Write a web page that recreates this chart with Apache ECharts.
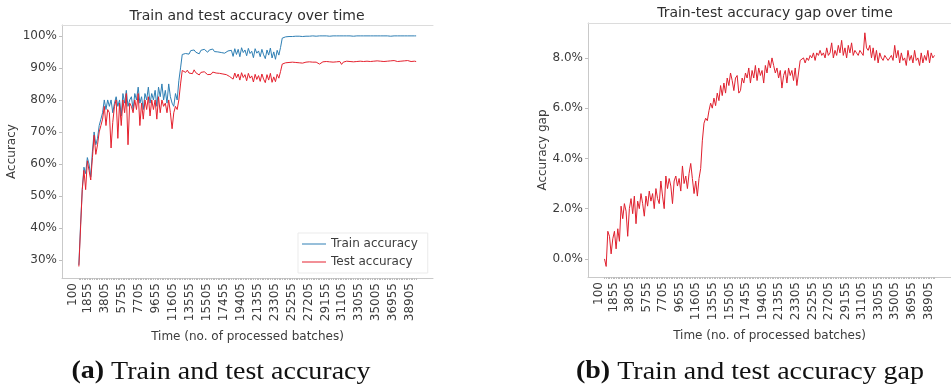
<!DOCTYPE html>
<html>
<head>
<meta charset="utf-8">
<script src="https://cdn.jsdelivr.net/npm/echarts@6/dist/echarts.min.js"></script>
<style>
  html, body { margin: 0; padding: 0; background: #ffffff; }
  #chart { width: 951px; height: 388px; }
</style>
</head>
<body>
<div id="chart"></div>
<script>
// Evaluation is logged every 195 processed batches, starting at batch 100.
const batchStart = 100;
const batchStep = 195;

// Train accuracy (%) at each evaluation point.
const trainAcc = [
  28.5, 41, 52, 59, 57, 62, 60, 56, 64, 70,
  66, 68, 72, 74, 76, 80, 77, 80, 78, 80,
  76, 79, 81, 78, 80, 75, 82, 79, 83, 78,
  80, 81, 77, 82, 80, 84, 79, 81, 77, 82,
  80, 84, 79, 82, 80, 83, 78, 84, 81, 85,
  80, 83, 79, 85, 81, 79, 78, 82, 80, 86,
  90, 94.2, 94.8, 94.5, 95.1, 94.3, 95.4, 94.8, 95.6, 94.9,
  95.2, 94.4, 95.5, 95.0, 95.8, 95.2, 94.9, 95.6, 95.3, 95.9,
  95.1, 95.4, 95.0, 95.3, 94.8, 95.2, 94.6, 94.9, 95.3, 94.7,
  95.5, 93.6, 96.0, 94.2, 95.8, 93.5, 96.3, 94.8, 95.6, 93.8,
  96.1, 94.5, 95.2, 93.2, 96.0, 94.6, 95.3, 93.5, 95.8, 94.1,
  92.9, 95.6, 94.0, 96.2, 93.1, 95.0, 92.7, 95.5, 94.0, 96.4,
  99.3, 99.6, 99.7, 99.6, 99.8, 99.7, 99.8, 99.8, 99.9, 99.8,
  99.9, 99.9, 99.8, 99.9, 99.9, 100, 99.9, 99.9, 100, 99.9,
  99.9, 100, 100, 99.9, 100, 99.9, 100, 100, 99.9, 100,
  100, 99.9, 100, 100, 100, 99.9, 100, 100, 100, 99.9,
  100, 100, 99.9, 100, 100, 100, 100, 99.9, 100, 100,
  100, 100, 100, 99.9, 100, 100, 100, 100, 100, 99.9,
  100, 100, 100, 100, 99.9, 100, 100, 100, 100, 100,
  100, 99.9, 100, 100, 100, 100, 100, 100, 100, 100
];

// Test accuracy (%) at each evaluation point.
const testAcc = [
  28, 40, 52, 58, 52, 61, 58, 55, 62, 69,
  63, 66, 70, 72, 74, 78, 72, 77, 76, 65,
  73, 78, 80, 68, 79, 72, 80, 76, 82, 66,
  79, 78, 76, 80, 77, 82, 72, 79, 74, 80,
  77, 81, 75, 80, 77, 80, 74, 81, 76, 80,
  78, 79, 76, 80, 76, 71, 76, 78, 77, 80,
  85, 89.2, 89.5, 88.6, 89.3, 88.4, 89.0, 88.2, 89.4, 88.5,
  88.9, 87.8, 88.6, 88.1, 88.8, 88.3, 87.9, 88.5, 88.0, 88.7,
  88.2, 88.4, 88.0, 88.3, 87.8, 88.1, 87.5, 87.9, 87.6, 87.3,
  87.8, 86.5, 88.4, 86.9, 88.1, 86.2, 88.5, 87.0, 87.9, 86.0,
  88.3, 86.8, 87.5, 85.6, 88.0, 86.4, 87.6, 85.8, 88.1, 86.5,
  85.4, 87.9, 86.2, 88.3, 85.5, 87.2, 85.7, 88.0, 86.8, 88.9,
  91.2, 91.5, 91.6, 91.4, 91.7, 91.6, 91.8, 91.5, 91.7, 91.9,
  91.6, 91.8, 91.5, 91.7, 91.8, 91.6, 91.9, 91.7, 91.8, 91.6,
  91.8, 91.9, 91.2, 91.7, 91.9, 91.8, 92.0, 91.7, 91.9, 92.0,
  91.8, 92.0, 91.9, 91.7, 92.0, 91.1, 91.8, 92.0, 92.1, 91.9,
  92.0, 92.2, 91.9, 92.1, 92.0, 91.8, 92.1, 92.2, 92.0, 91.9,
  92.1, 92.2, 92.0, 92.3, 92.1, 91.9, 92.2, 92.0, 92.1, 92.3,
  92.0, 92.2, 92.1, 91.9, 92.2, 92.0, 92.3, 92.1, 92.0, 92.2,
  92.1, 91.9, 92.2, 92.0, 92.3, 92.1, 92.0, 92.2, 92.1, 92.0
];

// Train-test accuracy gap (%) at each evaluation point.
const accGap = [
  0.0, -0.3, 1.1, 0.9, 0.2, 0.8, 1.1, 0.4, 1.2, 0.7,
  2.1, 1.6, 2.2, 1.9, 0.9, 2.0, 2.4, 1.8, 2.5, 1.4,
  2.3, 2.0, 2.6, 2.2, 1.7, 2.5, 2.1, 2.7, 2.3, 2.6,
  2.0, 2.8, 2.4, 2.2, 3.1, 2.5, 2.0, 3.3, 2.8, 3.2,
  2.9, 2.2, 3.1, 3.3, 2.9, 3.2, 2.7, 3.7, 3.0, 3.3,
  2.8, 3.4, 3.8, 3.2, 2.6, 3.1, 2.5, 3.2, 3.6, 4.7,
  5.4, 5.6, 5.5, 5.9, 6.2, 6.0, 6.4, 6.1, 6.6, 6.3,
  6.9, 6.5, 7.0, 6.6, 7.2, 6.9, 7.4, 7.1, 6.7, 7.2,
  7.3, 6.6, 6.7, 7.2, 7.0, 7.4, 7.2, 7.6, 7.0, 7.5,
  7.2, 7.7, 7.1, 7.6, 7.3, 7.5, 7.0, 7.7, 7.4, 7.9,
  7.6, 8.0, 7.7, 7.4, 7.6, 7.2, 7.5, 6.8, 7.3, 7.5,
  7.0, 7.6, 7.3, 7.5, 7.1, 7.6, 6.9, 7.4, 7.9, 7.9,
  8.0, 7.8, 8.0, 7.9, 8.1, 8.0, 8.2, 7.9, 8.2, 8.1,
  8.3, 8.1, 8.2, 8.0, 8.4, 8.1, 8.2, 8.6, 8.0, 8.3,
  8.1, 8.5, 8.2, 8.7, 8.1, 8.4, 8.0, 8.5, 8.2, 8.6,
  8.1, 8.3, 8.2, 8.1, 8.3, 8.2, 8.1, 9.0, 8.4, 8.3,
  8.5, 8.0, 8.4, 7.9, 8.3, 7.8, 8.2, 8.0, 7.9, 8.1,
  8.0, 7.9, 8.0, 8.1, 7.9, 8.5, 8.0, 8.3, 7.8, 8.2,
  7.9, 8.0, 7.7, 8.3, 7.9, 8.1, 7.8, 8.3, 7.9, 8.0,
  7.7, 8.2, 7.8, 8.1, 7.9, 8.3, 7.8, 8.2, 8.0, 8.1
];

// Labelled batch counts on the time axis.
const batchTicks = [100, 1855, 3805, 5755, 7705, 9655, 11605, 13555, 15505, 17455,
  19405, 21355, 23305, 25255, 27205, 29155, 31105, 33055, 35005, 36955, 38905];
const accTicks = [30, 40, 50, 60, 70, 80, 90, 100];
const gapTicks = [0, 2, 4, 6, 8];

const batches = trainAcc.map((_, i) => batchStart + i * batchStep);
const pairs = (vals) => vals.map((v, i) => [batches[i], v]);

const FONT = 'DejaVu Sans';
const TEXT = '#3c3c3c';
const SPINE = '#c9c9c9';
const span = batches[batches.length - 1] - batches[0];
const xMin = batches[0] - span * 0.05;
const xMax = batches[batches.length - 1] + span * 0.05;

function timeAxis(gridIndex) {
  return {
    type: 'value', gridIndex, min: xMin, max: xMax,
    name: 'Time (no. of processed batches)',
    nameLocation: 'middle', nameGap: 53,
    nameTextStyle: { fontFamily: FONT, fontSize: 12, color: TEXT },
    axisLine: { show: true, onZero: false, lineStyle: { color: SPINE, width: 1 } },
    axisTick: { show: true, length: 2, customValues: batches, lineStyle: { color: '#bdbdbd', width: 1 } },
    axisLabel: {
      customValues: batchTicks, rotate: 90, margin: 5, verticalAlign: 'bottom',
      fontFamily: FONT, fontSize: 12, color: TEXT, formatter: (v) => String(v)
    },
    splitLine: { show: false }
  };
}
function topSpine(gridIndex) {
  return {
    type: 'value', gridIndex, position: 'top', min: xMin, max: xMax,
    axisLine: { show: true, onZero: false, lineStyle: { color: '#dcdcdc', width: 1 } },
    axisTick: { show: false }, axisLabel: { show: false }, splitLine: { show: false }
  };
}

// Sub-figure caption: bold tag followed by a serif description.
function caption(x, tag, desc) {
  return {
    type: 'text', x, y: 372, scaleX: 1.12,
    style: {
      text: '{b|' + tag + '} ' + desc, align: 'center', verticalAlign: 'middle',
      fontFamily: 'Liberation Serif', fontSize: 25, fill: '#111111',
      rich: { b: { fontFamily: 'Liberation Serif', fontSize: 25, fontWeight: 'bold', fill: '#111111' } }
    }
  };
}

const option = {
  animation: false,
  backgroundColor: '#ffffff',
  textStyle: { fontFamily: FONT },
  grid: [
    { left: 62, top: 25, width: 371, height: 253 },
    { left: 588, top: 23, width: 374, height: 254 }
  ],
  xAxis: [timeAxis(0), timeAxis(1), topSpine(0), topSpine(1)],
  yAxis: [
    {
      type: 'value', gridIndex: 0, min: 24.4, max: 103.4,
      name: 'Accuracy', nameLocation: 'middle', nameGap: 44,
      nameTextStyle: { fontFamily: FONT, fontSize: 12, color: TEXT },
      axisLine: { show: true, onZero: false, lineStyle: { color: SPINE } },
      axisTick: { show: true, length: 3, customValues: accTicks, lineStyle: { color: '#bdbdbd' } },
      axisLabel: { customValues: accTicks, margin: 5, fontFamily: FONT, fontSize: 12, color: TEXT, formatter: (v) => v + '%' },
      splitLine: { show: false }
    },
    {
      type: 'value', gridIndex: 1, min: -0.72, max: 9.39,
      name: 'Accuracy gap', nameLocation: 'middle', nameGap: 38,
      nameTextStyle: { fontFamily: FONT, fontSize: 12, color: TEXT },
      axisLine: { show: true, onZero: false, lineStyle: { color: SPINE } },
      axisTick: { show: true, length: 3, customValues: gapTicks, lineStyle: { color: '#bdbdbd' } },
      axisLabel: { customValues: gapTicks, margin: 5, fontFamily: FONT, fontSize: 12, color: TEXT, formatter: (v) => v.toFixed(1) + '%' },
      splitLine: { show: false }
    }
  ],
  legend: {
    data: ['Train accuracy', 'Test accuracy'],
    orient: 'vertical', left: 298, top: 233,
    icon: 'rect', itemWidth: 24, itemHeight: 1, itemGap: 6,
    padding: [5, 10, 5, 4],
    backgroundColor: '#ffffff', borderColor: '#ebebeb', borderWidth: 1,
    textStyle: { fontFamily: FONT, fontSize: 12, color: TEXT }
  },
  series: [
    {
      name: 'Train accuracy', type: 'line', xAxisIndex: 0, yAxisIndex: 0,
      data: pairs(trainAcc), showSymbol: false, symbol: 'none',
      color: '#2f7fb4', lineStyle: { width: 1, color: '#2f7fb4' }
    },
    {
      name: 'Test accuracy', type: 'line', xAxisIndex: 0, yAxisIndex: 0,
      data: pairs(testAcc), showSymbol: false, symbol: 'none',
      color: '#e5212e', lineStyle: { width: 1, color: '#e5212e' }
    },
    {
      name: 'Accuracy gap', type: 'line', xAxisIndex: 1, yAxisIndex: 1,
      data: pairs(accGap), showSymbol: false, symbol: 'none',
      color: '#e0202e', lineStyle: { width: 1, color: '#e0202e' }
    }
  ],
  graphic: [
    {
      type: 'text', x: 247, y: 16,
      style: { text: 'Train and test accuracy over time', align: 'center', verticalAlign: 'middle',
        fontFamily: FONT, fontSize: 14, fill: '#2e2e2e' }
    },
    {
      type: 'text', x: 775, y: 13,
      style: { text: 'Train-test accuracy gap over time', align: 'center', verticalAlign: 'middle',
        fontFamily: FONT, fontSize: 14, fill: '#2e2e2e' }
    },
    caption(221, '(a)', 'Train and test accuracy'),
    caption(750, '(b)', 'Train and test accuracy gap')
  ]
};

const chart = echarts.init(document.getElementById('chart'), null, { renderer: 'canvas' });
chart.setOption(option);
</script>
</body>
</html>
